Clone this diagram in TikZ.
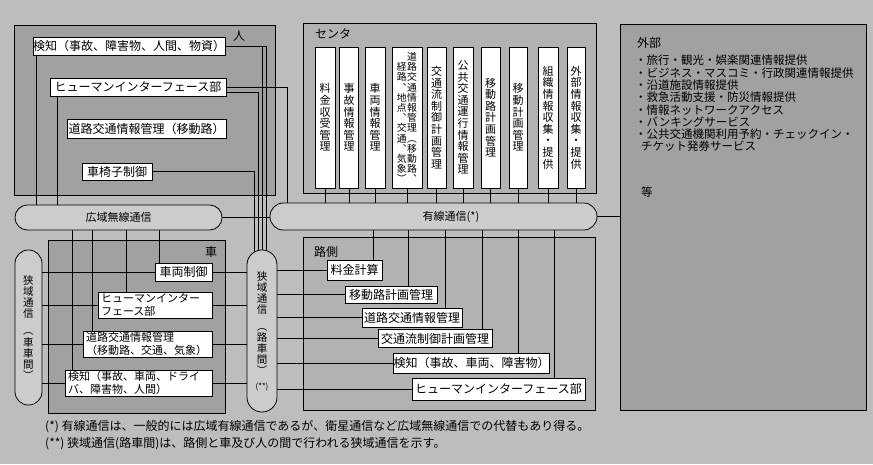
\documentclass[tikz,border=0pt]{standalone}
\usepackage{fontspec}
\setmainfont{Noto Sans CJK JP}
\usetikzlibrary{calc}
\pgfdeclarelayer{bg}
\pgfdeclarelayer{lines}
\pgfsetlayers{bg,lines,main}
\definecolor{bgc}{gray}{0.74}
\definecolor{darkc}{gray}{0.63}
\definecolor{midc}{gray}{0.70}
\definecolor{stc}{gray}{0.80}
\newcommand\vcolumn[1]{\begin{minipage}[b]{1.05em}\centering #1\end{minipage}}
\begin{document}
\begin{tikzpicture}[x=1pt,y=-1pt,
  box/.style={draw, fill=white, line width=0.7pt, inner sep=0pt, font=\fontsize{12}{14}\selectfont},
  vertbox/.style={box, minimum height=141pt, font=\fontsize{11}{11.6}\selectfont, align=center},
  twobox/.style={box, align=left, inner xsep=3pt, font=\fontsize{11}{12.5}\selectfont, minimum height=26pt},
  region/.style={draw, line width=1pt, inner sep=0pt},
  stad/.style={draw, line width=0.8pt, fill=stc, inner sep=0pt},
  lbl/.style={inner sep=0pt, font=\fontsize{12}{14}\selectfont},
  conn/.style={line width=0.7pt}
]
\useasboundingbox (0,0) rectangle (873,464);

% ---------- regions ----------
\begin{pgfonlayer}{bg}
\fill[bgc] (0,0) rectangle (873,464);
\node[region, fill=darkc, minimum width=261pt, minimum height=170pt] (hbox) at (144.5,110) {};
\node[region, fill=midc, minimum width=293pt, minimum height=170pt] (cbox) at (449.5,108) {};
\node[region, fill=darkc, minimum width=177pt, minimum height=173pt] (carbox) at (136.5,326.5) {};
\node[region, fill=midc, minimum width=292pt, minimum height=173pt] (rbox) at (449,323.5) {};
\node[region, fill=darkc, minimum width=246pt, minimum height=386pt] (ext) at (743,217) {};
\end{pgfonlayer}

% ---------- labels ----------
\node[lbl] (hlbl) at (239,36) {人};
\node[lbl] (clbl) at (333,34) {センタ};
\node[lbl] (vlbl) at (211,252) {車};
\node[lbl] (rlbl) at (326,252) {路側};
\node[lbl, anchor=west] (elbl) at (637,43) {外部};

% ---------- 人 ----------
\node[box, minimum width=192pt, minimum height=18pt] (hk) at (129,46) {検知（事故、障害物、人間、物資）};
\node[box, minimum width=176pt, minimum height=18pt] (hh) at (138,87) {ヒューマンインターフェース部};
\node[box, minimum width=159pt, minimum height=19pt] (hd) at (146.5,128.5) {道路交通情報管理（移動路）};
\node[box, minimum width=70pt, minimum height=17pt] (hw) at (117,171.5) {車椅子制御};

% ---------- センタ ----------
\node[vertbox, minimum width=20pt] (c1) at (325,117.5) {料\\金\\収\\受\\管\\理};
\node[vertbox, minimum width=19pt] (c2) at (349,117.5) {事\\故\\情\\報\\管\\理};
\node[vertbox, minimum width=20pt] (c3) at (375,117.5) {車\\両\\情\\報\\管\\理};
\node[box, minimum width=30pt, minimum height=141pt, font=\fontsize{9.8}{10.2}\selectfont] (c4) at (407,117.5)
  {\vcolumn{経\\路\\︑\\地\\点\\︑\\交\\通\\︑\\気\\象\\︶}\vcolumn{道\\路\\交\\通\\情\\報\\管\\理\\︵\\移\\動\\路\\︑}};
\node[vertbox, minimum width=19pt] (c5) at (436.5,117.5) {交\\通\\流\\制\\御\\計\\画\\管\\理};
\node[vertbox, minimum width=20pt] (c6) at (463,117.5) {公\\共\\交\\通\\運\\行\\情\\報\\管\\理};
\node[vertbox, minimum width=19pt] (c7) at (490.5,117.5) {移\\動\\路\\計\\画\\管\\理};
\node[vertbox, minimum width=18pt] (c8) at (518,117.5) {移\\動\\計\\画\\管\\理};
\node[vertbox, minimum width=20pt] (c9) at (548,117.5) {組\\織\\情\\報\\収\\集\\・\\提\\供};
\node[vertbox, minimum width=18pt] (c10) at (576,117.5) {外\\部\\情\\報\\収\\集\\・\\提\\供};

% ---------- 車 ----------
\node[box, minimum width=57pt, minimum height=18pt] (v1) at (183.5,272) {車両制御};
\node[twobox, text width=108pt] (v2) at (155,305) {ヒューマンインター\\フェース部};
\node[twobox, text width=123pt] (v3) at (147.5,344) {道路交通情報管理\\（移動路、交通、気象）};
\node[twobox, text width=141pt] (v4) at (138.5,383) {検知（事故、車両、ドライ\\バ、障害物、人間）};

% ---------- 路側 ----------
\node[box, minimum width=55pt, minimum height=20pt] (r1) at (354.5,270) {料金計算};
\node[box, minimum width=92pt, minimum height=17pt] (r2) at (391,294.5) {移動路計画管理};
\node[box, minimum width=100pt, minimum height=19pt] (r3) at (412,317.5) {道路交通情報管理};
\node[box, minimum width=114pt, minimum height=18pt] (r4) at (435,338.5) {交通流制御計画管理};
\node[box, minimum width=153pt, minimum height=20pt] (r5) at (471.5,363) {検知（事故、車両、障害物）};
\node[box, minimum width=173pt, minimum height=22pt] (r6) at (498.5,389) {ヒューマンインターフェース部};

% ---------- communication links ----------
\node[stad, minimum width=207pt, minimum height=25pt, rounded corners=12.4pt, font=\fontsize{11}{13}\selectfont] (wsr) at (118.5,217.5) {広域無線通信};
\node[stad, minimum width=327pt, minimum height=27pt, rounded corners=13.4pt] (wired) at (433.5,216.5) {};
\node[lbl, font=\fontsize{11}{13}\selectfont] (wiredt) at (451,217) {有線通信(*)};
\node[stad, minimum width=27pt, minimum height=155pt, rounded corners=13.4pt, align=center, font=\fontsize{10.5}{11.2}\selectfont] (csr) at (28.5,327.5)
  {狭\\域\\通\\信\\[6pt]︵\\車\\車\\間\\︶};
\node[stad, minimum width=30pt, minimum height=162pt, rounded corners=14.9pt, align=center, font=\fontsize{10.5}{11.2}\selectfont] (rsr) at (262,331)
  {狭\\域\\通\\信\\[5pt]︵\\路\\車\\間\\︶\\[3pt]{\fontsize{8}{9}\selectfont(**)}};

% ---------- 外部 ----------
\node[anchor=north west, inner sep=0pt, align=left, font=\fontsize{11.5}{12.3}\selectfont] (elist) at (635,55)
  {・旅行・観光・娯楽関連情報提供\\
   ・ビジネス・マスコミ・行政関連情報提供\\
   ・沿道施設情報提供\\
   ・救急活動支援・防災情報提供\\
   ・情報ネットワークアクセス\\
   ・バンキングサービス\\
   ・公共交通機関利用予約・チェックイン・\\
   \hspace{6pt}チケット発券サービス\\[33pt]
   \hspace{6pt}等};

% ---------- footnotes ----------
\node[anchor=west, inner sep=0pt, font=\fontsize{12}{14}\selectfont] (fn1) at (45,427)
  {(*) 有線通信は、一般的には広域有線通信であるが、衛星通信など広域無線通信での代替もあり得る。};
\node[anchor=west, inner sep=0pt, font=\fontsize{12}{14}\selectfont] (fn2) at (45,444)
  {(**) 狭域通信(路車間)は、路側と車及び人の間で行われる狭域通信を示す。};

% ---------- connectors ----------
\begin{pgfonlayer}{lines}
% 人 -> 広域無線通信
\draw[conn] ([xshift=4pt]hk.south west) -- ([xshift=4pt]hk.south west |- wsr.center);
\draw[conn] ([xshift=8pt]hh.south west) -- ([xshift=8pt]hh.south west |- wsr.center);
% 人 -> 狭域通信(路車間)
\draw[conn] (hk.east) -| ([xshift=4pt]rsr.center);
\draw[conn] (hk.east) -| (rsr.center);
\draw[conn] ([yshift=-5pt]hh.east) -| ([xshift=-4pt]rsr.center);
\draw[conn] (hw.east) -| ([xshift=-8pt]rsr.center);
% 人 -> 有線通信
\draw[conn] (hh.east) -| ([xshift=18pt]wired.west);
% 広域 <-> 有線
\draw[conn] (wsr.east) -- (wsr.east -| wired.west);
% センタ -> 有線
\foreach \i in {1,...,10} \draw[conn] (c\i.south) -- (c\i.south |- wired.center);
% 有線 -> 外部
\draw[conn] (wired.east) -- (wired.east -| ext.west);
% 有線 -> 路側
\draw[conn] ([xshift=-9pt]r1.north east) -- ([xshift=-9pt]r1.north east |- wired.center);
\draw[conn] ([xshift=-29pt]r2.north east) -- ([xshift=-29pt]r2.north east |- wired.center);
\draw[conn] ([xshift=-17pt]r3.north east) -- ([xshift=-17pt]r3.north east |- wired.center);
\draw[conn] ([xshift=-10pt]r4.north east) -- ([xshift=-10pt]r4.north east |- wired.center);
\draw[conn] ([xshift=-32pt]r5.north east) -- ([xshift=-32pt]r5.north east |- wired.center);
\draw[conn] ([xshift=-31pt]r6.north east) -- ([xshift=-31pt]r6.north east |- wired.center);
% 狭域(路車間) -> 路側 / 車
\foreach \i in {1,...,6} \draw[conn] (r\i.west) -- (r\i.west -| rsr.center);
\foreach \i in {1,...,4} \draw[conn] (v\i.east) -- (v\i.east -| rsr.center);
% 狭域(車車間) -> 車
\foreach \i in {1,...,4} \draw[conn] (v\i.west) -- (v\i.west -| csr.center);
% 広域 -> 車
\draw[conn] ([xshift=5pt]v1.north west) -- ([xshift=5pt]v1.north west |- wsr.center);
\draw[conn] ([xshift=29pt]v2.north west) -- ([xshift=29pt]v2.north west |- wsr.center);
\draw[conn] ([xshift=10pt]v3.north west) -- ([xshift=10pt]v3.north west |- wsr.center);
\draw[conn] ([xshift=8pt]v4.north west) -- ([xshift=8pt]v4.north west |- wsr.center);
\end{pgfonlayer}
\end{tikzpicture}
\end{document}
